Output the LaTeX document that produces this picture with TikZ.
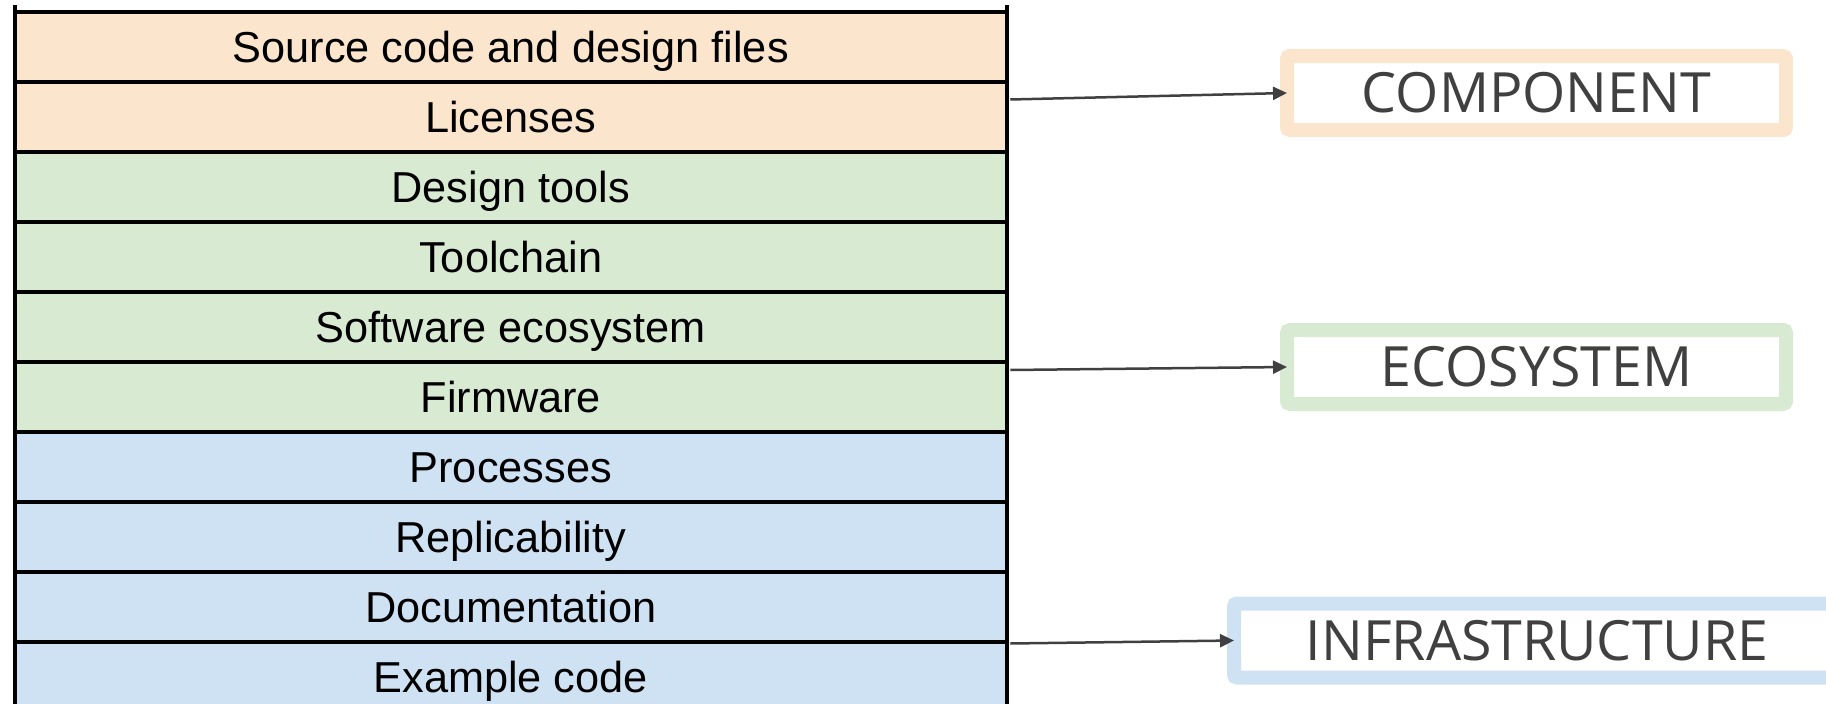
\documentclass[tikz,border=0pt]{standalone}
\usepackage{fontspec}
\setmainfont{Liberation Sans}
\newfontfamily\labelfont{Open Sans}
\usetikzlibrary{arrows.meta,calc}
\definecolor{peach}{HTML}{FCE5CD}
\definecolor{sage}{HTML}{D9EAD3}
\definecolor{sky}{HTML}{CFE2F3}
\definecolor{ink}{HTML}{404040}

\begin{document}
\begin{tikzpicture}[x=1pt,y=-1pt,
  row/.style={draw=black, line width=3.5pt, minimum width=992pt, minimum height=70pt,
    inner sep=0pt, anchor=north west, text height=32pt, text depth=0pt,
    font=\fontsize{43.3}{50}\selectfont},
  tag/.style={draw=#1, line width=14pt, rounded corners=3pt, fill=white, inner sep=0pt,
    outer sep=0pt, minimum height=74pt, text height=39pt, text depth=0pt,
    font=\labelfont\fontsize{55.5}{60}\selectfont, text=ink},
  link/.style={draw=ink, line width=2.5pt, -{Triangle[length=14pt,width=13pt]}}
]
\useasboundingbox (0,0) rectangle (1826,704);

% layered list of items, one row per item
\node[row, fill=peach] (r1)  at (13,10)  {Source code and design files};
\node[row, fill=peach] (r2)  at (13,80)  {Licenses};
\node[row, fill=sage]  (r3)  at (13,150) {Design tools};
\node[row, fill=sage]  (r4)  at (13,220) {Toolchain};
\node[row, fill=sage]  (r5)  at (13,290) {Software ecosystem};
\node[row, fill=sage]  (r6)  at (13,360) {Firmware};
\node[row, fill=sky]   (r7)  at (13,430) {Processes};
\node[row, fill=sky]   (r8)  at (13,500) {Replicability};
\node[row, fill=sky]   (r9)  at (13,570) {Documentation};
\node[row, fill=sky]   (r10) at (13,640) {Example code};

% short overhang of the side rules above the top row
\draw[line width=3.5pt] ($(r1.north west)+(1.75,-5)$) -- ($(r1.north west)+(1.75,1.75)$);
\draw[line width=3.5pt] ($(r1.north east)+(-1.75,-5)$) -- ($(r1.north east)+(-1.75,1.75)$);

% category labels
\node[tag=peach, minimum width=499pt] (comp)  at (1536.5,93)  {COMPONENT};
\node[tag=sage,  minimum width=499pt] (eco)   at (1536.5,367) {ECOSYSTEM};
\node[tag=sky,   minimum width=606pt] (infra) at (1537,640.5) {INFRASTRUCTURE};

% connectors from the list to the labels
\draw[link] ($(r2.north east)+(1.75,19.5)$) -- (comp.west);
\draw[link] ($(r6.north east)+(1.75,10)$)   -- (eco.west);
\draw[link] ($(r10.north east)+(1.75,3.5)$) -- (infra.west);
\end{tikzpicture}
\end{document}
